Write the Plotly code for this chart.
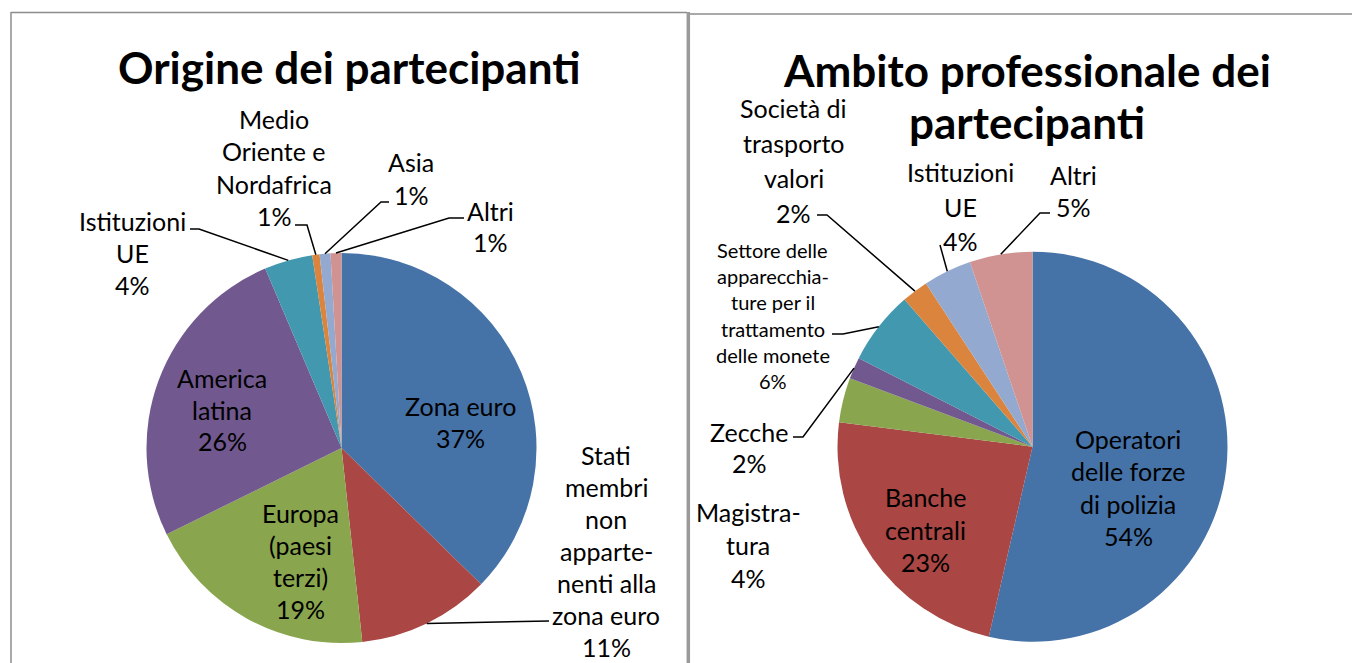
import math
import plotly.graph_objects as go

# ---------------- data ----------------
origin_labels = ["Zona euro", "Stati\nmembri\nnon\napparte-\nnenti alla\nzona euro",
                 "Europa\n(paesi\nterzi)", "America\nlatina", "Istituzioni\nUE",
                 "Medio\nOriente e\nNordafrica", "Asia", "Altri"]
origin_values = [37.3, 11.0, 19.4, 25.9, 4.0, 0.6, 0.9, 0.9]

prof_labels = ["Operatori\ndelle forze\ndi polizia", "Banche\ncentrali", "Magistra-\ntura",
               "Zecche", "Settore delle\napparecchia-\nture per il\ntrattamento\ndelle monete",
               "Società di\ntrasporto\nvalori", "Istituzioni\nUE", "Altri"]
prof_values = [53.6, 23.4, 3.7, 1.8, 6.1, 2.2, 4.0, 5.2]

colors = ["#4572A7", "#AA4643", "#89A54E", "#71588F", "#4198AF", "#DB843D", "#93A9CF", "#D19392"]

title_left = "Origine dei partecipanti"
title_right = ["Ambito professionale dei", "partecipanti"]

# ---------------- layout constants (pixels) ----------------
W, H = 1352, 663
FONT = "Lato, 'Noto Sans', sans-serif"
LF = 25      # label font size
SF = 20      # small label font size
TF = 44      # title font size

def px(x, y):
    return x / W, 1 - y / H

pies = [
    dict(labels=origin_labels, values=origin_values, cx=341.5, cy=448.0, r=195.0,
         # label block: center x, first-line y, line spacing, font size
         text=[(460, 406, 31.5, LF), (606, 455, 32, LF), (300, 513, 32, LF), (222, 378, 31.5, LF),
               (132, 221, 32, LF), (274, 119, 32.3, LF), (411, 162, 33, LF), (490, 211, 31, LF)],
         # leader lines: elbow points (from label) -> ends at slice edge; None = no leader
         leaders=[None, [(549, 621)], None, None, [(190, 229), (199, 229)],
                  [(295, 225), (307, 225)], [(389, 202), (381, 202)], [(464, 218), (449, 218)]]),
    dict(labels=prof_labels, values=prof_values, cx=1032.5, cy=446.7, r=195.0,
         text=[(1128, 439, 32.3, LF), (925, 497, 32.5, LF), (748, 512, 33, LF), (749, 432, 31, LF),
               (773, 250, 26.2, SF), (794, 108, 35, LF), (960, 172, 34.5, LF), (1073, 175, 32, LF)],
         leaders=[None, None, None, [(793, 437), (803, 437)], [(832, 334), (843, 334)],
                  [(817, 215), (827, 215)], [(940, 245)], [(1050, 213), (1040, 213)]]),
]

fig = go.Figure()
annotations = []
shapes = []

for p in pies:
    x0, y0 = px(p["cx"] - p["r"], p["cy"] + p["r"])
    x1, y1 = px(p["cx"] + p["r"], p["cy"] - p["r"])
    fig.add_trace(go.Pie(
        labels=[l.replace("\n", " ") for l in p["labels"]], values=p["values"],
        sort=False, direction="clockwise", rotation=0,
        marker=dict(colors=colors, line=dict(width=0)),
        textinfo="none", hoverinfo="label+percent", showlegend=False,
        domain=dict(x=[x0, x1], y=[y0, y1]),
    ))
    total = sum(p["values"])
    cum = 0.0
    for i, (lab, v) in enumerate(zip(p["labels"], p["values"])):
        pct = v / total * 100
        mid = (cum + v / 2) / total
        cum += v
        lines = lab.split("\n") + ["%d%%" % round(pct)]
        tx, ty, sp, fs = p["text"][i]
        for k, line in enumerate(lines):
            ax, ay = px(tx, ty + k * sp)
            annotations.append(dict(x=ax, y=ay, xref="paper", yref="paper", text=line,
                                    showarrow=False, xanchor="center", yanchor="middle",
                                    font=dict(family=FONT, size=fs, color="#000000")))
        if p["leaders"][i]:
            ang = 2 * math.pi * mid
            ex = p["cx"] + p["r"] * math.sin(ang)
            ey = p["cy"] - p["r"] * math.cos(ang)
            pts = p["leaders"][i] + [(ex, ey)]
            path = "M " + " L ".join("%.5f,%.5f" % px(a, b) for a, b in pts)
            shapes.append(dict(type="path", path=path, xref="paper", yref="paper",
                               line=dict(color="#000000", width=1.5)))

# titles
tx, ty = px(349, 67)
annotations.append(dict(x=tx, y=ty, xref="paper", yref="paper", text="<b>%s</b>" % title_left,
                        showarrow=False, xanchor="center", yanchor="middle",
                        font=dict(family=FONT, size=TF, color="#000000")))
for k, t in enumerate(title_right):
    tx, ty = px(1027, 70 + k * 52)
    annotations.append(dict(x=tx, y=ty, xref="paper", yref="paper", text="<b>%s</b>" % t,
                            showarrow=False, xanchor="center", yanchor="middle",
                            font=dict(family=FONT, size=TF, color="#000000")))

# panel borders
def seg(a, b, c, d, color, w):
    x0, y0 = px(a, b)
    x1, y1 = px(c, d)
    shapes.append(dict(type="line", x0=x0, y0=y0, x1=x1, y1=y1, xref="paper", yref="paper",
                       line=dict(color=color, width=w)))

seg(11, 12.5, 687, 12.5, "#8c8c8c", 1.5)
seg(11, 12, 11, 663, "#8c8c8c", 1.5)
seg(688.3, 12, 688.3, 663, "#9a9a9a", 3.5)
seg(690, 14, 1352, 14, "#8c8c8c", 1.5)

fig.update_layout(
    width=W, height=H, margin=dict(l=0, r=0, t=0, b=0),
    paper_bgcolor="#ffffff", plot_bgcolor="#ffffff",
    annotations=annotations, shapes=shapes,
)

fig.write_html("out.html", config={"displayModeBar": False},
               post_script="document.body.style.margin='0px';document.body.style.overflow='hidden';")
